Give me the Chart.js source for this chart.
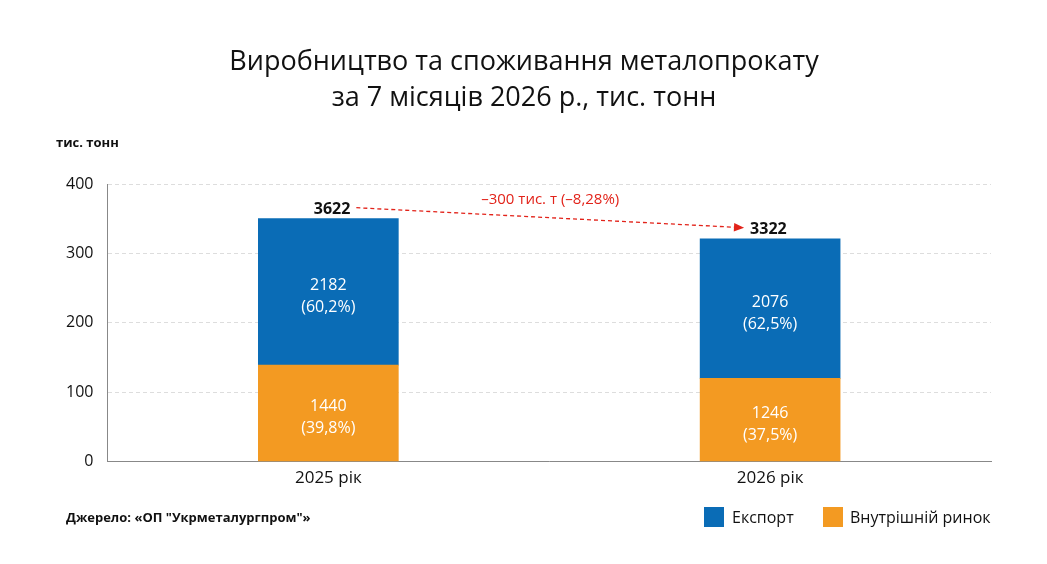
<!DOCTYPE html>
<html><head><meta charset="utf-8">
<script src="https://cdn.jsdelivr.net/npm/chart.js@4"></script>
<style>
body{margin:0;background:#fff;font-family:"Open Sans",sans-serif}
#wrap{position:relative;width:1047px;height:564px}
canvas{position:absolute;left:0;top:0}
</style></head><body>
<div id="wrap"><canvas id="c" width="1047" height="564"></canvas></div>
<script>
const categories = ["2025 рік", "2026 рік"];
const domestic = [139, 120];      // bar height (axis units)
const exportH = [211, 201];
const domesticLabel = ["1440", "1246"];
const domesticPct = ["(39,8%)", "(37,5%)"];
const exportLabel = ["2182", "2076"];
const exportPct = ["(60,2%)", "(62,5%)"];
const totals = ["3622", "3322"];
const yTicks = [0, 100, 200, 300, 400];
const change = "–300 тис. т (–8,28%)";

const BLUE = "#0a6cb6", ORANGE = "#f39a22";

const extras = {
  id: "extras",
  afterDatasetsDraw(chart) {
    const ctx = chart.ctx;
    const x = chart.scales.x, y = chart.scales.y;
    ctx.save();
    ctx.textAlign = "center";
    ctx.fillStyle = "#fff";
    ctx.font = "16px 'Open Sans'";
    categories.forEach((c, i) => {
      const cx = x.getPixelForValue(i);
      const dm = y.getPixelForValue(domestic[i] / 2);
      ctx.fillText(domesticLabel[i], cx, dm - 2);
      ctx.fillText(domesticPct[i], cx, dm + 20);
      const em = y.getPixelForValue(domestic[i] + exportH[i] / 2);
      ctx.fillText(exportLabel[i], cx, em - 2);
      ctx.fillText(exportPct[i], cx, em + 20);
    });
    ctx.fillStyle = "#111";
    ctx.font = "bold 16px 'Open Sans'";
    const tops = categories.map((c, i) => y.getPixelForValue(domestic[i] + exportH[i]));
    const x0 = x.getPixelForValue(0), x1 = x.getPixelForValue(1);
    ctx.textAlign = "right";
    ctx.fillText(totals[0], x0 + 22, tops[0] - 5);
    ctx.textAlign = "left";
    ctx.fillText(totals[1], x1 - 20, tops[1] - 5);
    const ax = x0 + 28, ay = tops[0] - 11, bx = x1 - 26, by = tops[1] - 11;
    ctx.strokeStyle = "#e2231a"; ctx.lineWidth = 1.3;
    ctx.setLineDash([4, 3]);
    ctx.beginPath(); ctx.moveTo(ax, ay); ctx.lineTo(bx - 8, by - 0.5); ctx.stroke();
    ctx.setLineDash([]);
    const ang = Math.atan2(by - ay, bx - ax);
    ctx.fillStyle = "#e2231a";
    ctx.beginPath();
    ctx.moveTo(bx, by);
    ctx.lineTo(bx - 11 * Math.cos(ang - 0.4), by - 11 * Math.sin(ang - 0.4));
    ctx.lineTo(bx - 11 * Math.cos(ang + 0.4), by - 11 * Math.sin(ang + 0.4));
    ctx.closePath(); ctx.fill();
    ctx.textAlign = "center";
    ctx.font = "15px 'Open Sans'";
    ctx.fillText(change, (ax + bx) / 2, 204);
    ctx.fillStyle = "#111";
    ctx.font = "27px 'Open Sans'";
    ctx.fillText("Виробництво та споживання металопрокату", 524, 70);
    ctx.fillText("за 7 місяців 2026 р., тис. тонн", 524, 106);
    ctx.textAlign = "left";
    ctx.font = "bold 13px 'Open Sans'";
    ctx.fillText("тис. тонн", 56, 147);
    ctx.fillText("Джерело: «ОП \"Укрметалургпром\"»", 66, 522);
    ctx.font = "16px 'Open Sans'";
    ctx.fillStyle = BLUE; ctx.fillRect(704, 507, 20, 20);
    ctx.fillStyle = ORANGE; ctx.fillRect(823, 507, 20, 20);
    ctx.fillStyle = "#111";
    ctx.fillText("Експорт", 732, 523);
    ctx.fillText("Внутрішній ринок", 850, 523);
    ctx.restore();
  }
};

new Chart(document.getElementById("c"), {
  type: "bar",
  data: {
    labels: categories,
    datasets: [
      { label: "Внутрішній ринок", data: domestic, backgroundColor: ORANGE, barThickness: 140 },
      { label: "Експорт", data: exportH, backgroundColor: BLUE, barThickness: 140 }
    ]
  },
  options: {
    responsive: false,
    animation: false,
    layout: { padding: { top: 184, left: 52, right: 56, bottom: 70 } },
    plugins: { legend: { display: false }, tooltip: { enabled: false } },
    scales: {
      x: {
        stacked: true,
        grid: { display: false, drawTicks: false },
        border: { color: "#888" },
        ticks: { color: "#111", font: { size: 17, family: "Open Sans" }, padding: 6 }
      },
      y: {
        stacked: true, min: 0, max: 400,
        afterBuildTicks: s => { s.ticks = yTicks.map(v => ({ value: v })); },
        grid: { color: "#ddd", drawTicks: false },
        border: { display: true, color: "#888", dash: [4, 3] },
        ticks: { color: "#111", font: { size: 16, family: "Open Sans" }, padding: 14 }
      }
    }
  },
  plugins: [extras]
});
</script>
</body></html>
